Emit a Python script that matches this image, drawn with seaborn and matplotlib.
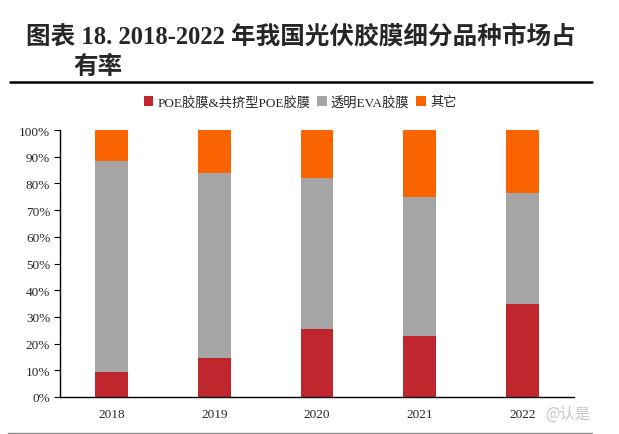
import matplotlib
matplotlib.use("Agg")
import matplotlib.pyplot as plt
import seaborn as sns
import pandas as pd
from matplotlib.patches import Patch
from matplotlib.ticker import FuncFormatter

years = ["2018", "2019", "2020", "2021", "2022"]
poe = [9.2, 14.5, 25.4, 23.0, 34.7]
eva = [79.1, 69.4, 56.6, 51.8, 41.8]
other = [11.7, 16.1, 18.0, 25.2, 23.5]
series_names = ["POE胶膜&共挤型POE胶膜", "透明EVA胶膜", "其它"]
colors = ["#C0262D", "#A5A5A5", "#F96400"]

sns.set_style("white")
plt.rcParams["font.family"] = ["Liberation Serif", "Noto Sans CJK SC"]

df = pd.DataFrame({"year": years, "poe": poe, "eva": eva, "other": other})
df["c2"] = df["poe"] + df["eva"]
df["c3"] = df["c2"] + df["other"]

fig = plt.figure(figsize=(6.19, 4.35), dpi=100)
ax = fig.add_axes([60/619, 1-398/435, 514/619, 267/435])

w = 0.32
sns.barplot(data=df, x="year", y="c3", color=colors[2], width=w, ax=ax, saturation=1, linewidth=0)
sns.barplot(data=df, x="year", y="c2", color=colors[1], width=w, ax=ax, saturation=1, linewidth=0)
sns.barplot(data=df, x="year", y="poe", color=colors[0], width=w, ax=ax, saturation=1, linewidth=0)

ax.set_xlim(-0.5, 4.5)
ax.set_ylim(0, 100)
ax.set_yticks(range(0, 101, 10))
ax.yaxis.set_major_formatter(FuncFormatter(lambda v, p: f"{int(v)}%"))
ax.set_xlabel("")
ax.set_ylabel("")
for s in ["top", "right"]:
    ax.spines[s].set_visible(False)
for s in ["left", "bottom"]:
    ax.spines[s].set_color("black")
    ax.spines[s].set_linewidth(1.0)
ax.tick_params(axis="y", which="major", direction="out", length=4, width=0.8, color="black",
               labelsize=9.5, pad=3, left=True)
ax.tick_params(axis="x", length=0, labelsize=9.5, pad=8)

handles = [Patch(facecolor=c, edgecolor="none") for c in colors]
fig.legend(handles, series_names, loc="center", bbox_to_anchor=(300/619, 1-103/435), ncol=3,
           frameon=False, fontsize=9.5, handlelength=0.75, handleheight=0.75, handletextpad=0.3,
           columnspacing=0.5)

# Title
fig.text(26/619, 1-37/435, "图表 18. 2018-2022 年我国光伏胶膜细分品种市场占", fontsize=17.7,
         fontweight="bold", va="center", ha="left")
fig.text(73/619, 1-67/435, "有率", fontsize=17.7, fontweight="bold", va="center", ha="left")
fig.add_artist(plt.Line2D([10/619, 592/619], [1-83/435, 1-83/435], color="black", linewidth=1.8))
fig.add_artist(plt.Line2D([8/619, 592/619], [1-434/435, 1-434/435], color="#888888", linewidth=1.0))

# watermark
fig.text(545/619, 1-414/435, "@认是", fontsize=11, color="#C8C8C8", va="center", ha="left",
         family=["Noto Sans CJK SC"])

fig.savefig("out.png", dpi=100)
